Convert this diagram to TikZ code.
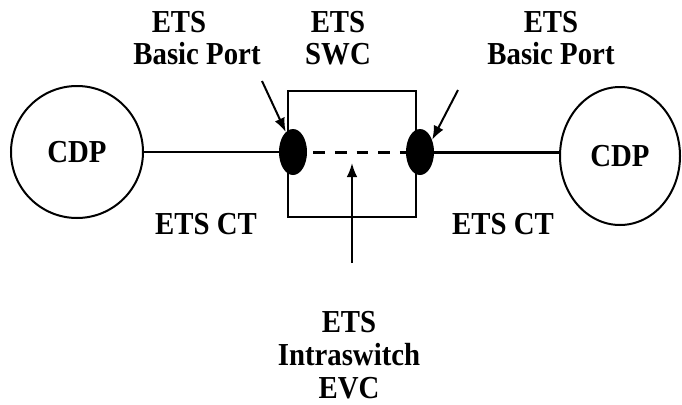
\documentclass[tikz,border=0pt]{standalone}
\usepackage{fontspec}
\setmainfont{Liberation Serif}[FakeStretch=0.9]
\usetikzlibrary{shapes.geometric, arrows.meta, positioning, calc}

\begin{document}
\begin{tikzpicture}[x=0.75pt, y=-0.75pt,
  lbl/.style={font=\bfseries\fontsize{24}{24.5}\selectfont, align=center, inner sep=0pt},
  cdp/.style={draw, line width=1.5pt, inner sep=0pt, font=\bfseries\fontsize{24}{24.5}\selectfont},
  port/.style={ellipse, fill=black, minimum width=21pt, minimum height=34.5pt, inner sep=0pt},
  swc/.style={draw, line width=1.5pt, minimum width=96pt, minimum height=94.5pt, inner sep=0pt},
  pointer/.style={line width=1.5pt, -{Latex[length=10.5pt, width=8pt]}}]
  \useasboundingbox (0,0) rectangle (682,404);

  % Switch box and its ports
  \node[swc] (swc) at (352,154) {};
  \node[port] (lport) at (293,152) {};
  \node[port] (rport) at (420,152) {};

  % End points
  \node[cdp, circle, minimum size=99pt] (lcdp) at (77,152) {CDP};
  \node[cdp, ellipse, minimum width=90pt, minimum height=103.5pt] (rcdp) at (620,156) {CDP};

  % Links
  \draw[line width=1.1pt] (lcdp) -- (lport);
  \draw[line width=2.25pt] (rport) -- (rport -| rcdp.west);
  \draw[line width=2.25pt, dash pattern=on 8.75pt off 7.5pt, shorten <=4.5pt] (lport.east) -- (rport.west);

  % Labels
  \node[lbl] (lportlbl) at (197,38) {ETS\hspace*{27pt}\\Basic Port};
  \node[lbl] (swclbl) at (338,38) {ETS\\SWC};
  \node[lbl] (rportlbl) at (551,38) {ETS\\Basic Port};
  \node[lbl] (lct) at (206,224) {ETS CT};
  \node[lbl] (rct) at (503,224) {ETS CT};
  \node[lbl] (evclbl) at (349,355) {ETS\\Intraswitch\\EVC};

  % Pointers
  \coordinate (lptail) at (262,81);
  \coordinate (rptail) at (458,90);
  \coordinate (evctail) at (352,263);
  \coordinate (evctip) at (352,163);
  \draw[pointer] (lptail) -- (lport.110);
  \draw[pointer] (rptail) -- (rport.45);
  \draw[pointer] (evctail) -- (evctip);
\end{tikzpicture}
\end{document}
